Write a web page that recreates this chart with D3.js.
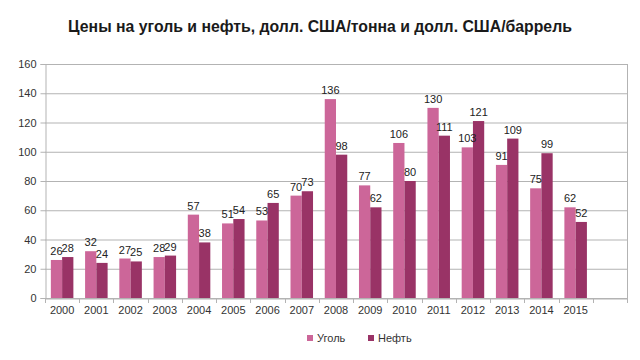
<!DOCTYPE html>
<html><head><meta charset="utf-8">
<script src="https://cdn.jsdelivr.net/npm/d3@7"></script>
<style>body{margin:0;background:#fff}svg{display:block}</style>
</head><body>
<svg id="c" width="640" height="360"></svg>
<script>
const years = ["2000","2001","2002","2003","2004","2005","2006","2007","2008","2009","2010","2011","2012","2013","2014","2015"];
const coal = [26,32,27,28,57,51,53,70,136,77,106,130,103,91,75,62];
const oil  = [28,24,25,29,38,54,65,73,98,62,80,111,121,109,99,52];
const seriesNames = ["Уголь","Нефть"];
const seriesColors = ["#cc6699","#993366"];
const yTicks = [0,20,40,60,80,100,120,140,160];
const title = "Цены на уголь и нефть, долл. США/тонна и долл. США/баррель";

const svg = d3.select("#c");
const L=45, R=627, T=64, B=298;
const cats = years.concat([""]); // empty trailing slot as in reference
const x = d3.scaleBand().domain(cats).range([L,R]).paddingInner(0).paddingOuter(0);
const y = d3.scaleLinear().domain([0,160]).range([B,T]);
const inner = d3.scaleBand().domain([0,1]).range([0,x.bandwidth()]).paddingOuter(0.52).paddingInner(0);

svg.append("text").attr("x",320).attr("y",32).attr("text-anchor","middle")
  .attr("font-family","Liberation Sans, Arial, sans-serif").attr("font-weight","bold")
  .attr("font-size",15.8).attr("fill","#1a1a1a").text(title);

// grid
svg.append("g").selectAll("line").data(yTicks).join("line")
  .attr("x1",L).attr("x2",R).attr("y1",d=>y(d)+0.5).attr("y2",d=>y(d)+0.5)
  .attr("stroke","#b3b3b3").attr("stroke-width",1);
svg.append("line").attr("x1",R+0.5).attr("x2",R+0.5).attr("y1",T).attr("y2",B).attr("stroke","#b3b3b3");

// y axis
const ya = svg.append("g").attr("transform",`translate(${L+0.5},0)`)
  .call(d3.axisLeft(y).tickValues(yTicks).tickSize(5).tickPadding(4));
ya.select(".domain").attr("stroke","#b3b3b3");
ya.selectAll(".tick line").attr("stroke","#b3b3b3");
ya.selectAll("text").attr("font-family","Liberation Sans, Arial, sans-serif").attr("font-size",11).attr("fill","#333");

// x axis
const xa = svg.append("g").attr("transform",`translate(0,${B+0.5})`)
  .call(d3.axisBottom(x).tickSize(0).tickPadding(8));
xa.select(".domain").attr("stroke","#b3b3b3");
xa.selectAll("text").attr("font-family","Liberation Sans, Arial, sans-serif").attr("font-size",11).attr("fill","#333");
svg.append("g").selectAll("line").data(cats.concat(["__end"])).join("line")
  .attr("x1",(d,i)=>Math.round(L+i*x.step())+0.5).attr("x2",(d,i)=>Math.round(L+i*x.step())+0.5)
  .attr("y1",B).attr("y2",B+5).attr("stroke","#b3b3b3");

// bars
const series = [coal, oil];
series.forEach((vals,s)=>{
  const g = svg.append("g");
  g.selectAll("rect").data(vals).join("rect")
    .attr("x",(d,i)=>x(years[i])+inner(s)).attr("width",inner.bandwidth())
    .attr("y",d=>y(d)).attr("height",d=>B-y(d)).attr("fill",seriesColors[s]);
});
series.forEach((vals,s)=>{
  svg.append("g").selectAll("text").data(vals).join("text")
    .attr("x",(d,i)=>x(years[i])+inner(s)+inner.bandwidth()/2)
    .attr("y",d=>y(d)-5).attr("text-anchor","middle")
    .attr("font-family","Liberation Sans, Arial, sans-serif").attr("font-size",11).attr("fill","#222")
    .text(d=>d);
});

// legend
const lg = svg.append("g").attr("transform","translate(307,335)");
seriesNames.forEach((n,i)=>{
  const gx = i*61;
  lg.append("rect").attr("x",gx).attr("y",0).attr("width",6).attr("height",6).attr("fill",seriesColors[i]);
  lg.append("text").attr("x",gx+10).attr("y",7).attr("font-family","Liberation Sans, Arial, sans-serif")
    .attr("font-size",11).attr("fill","#333").text(n);
});
</script>
</body></html>
